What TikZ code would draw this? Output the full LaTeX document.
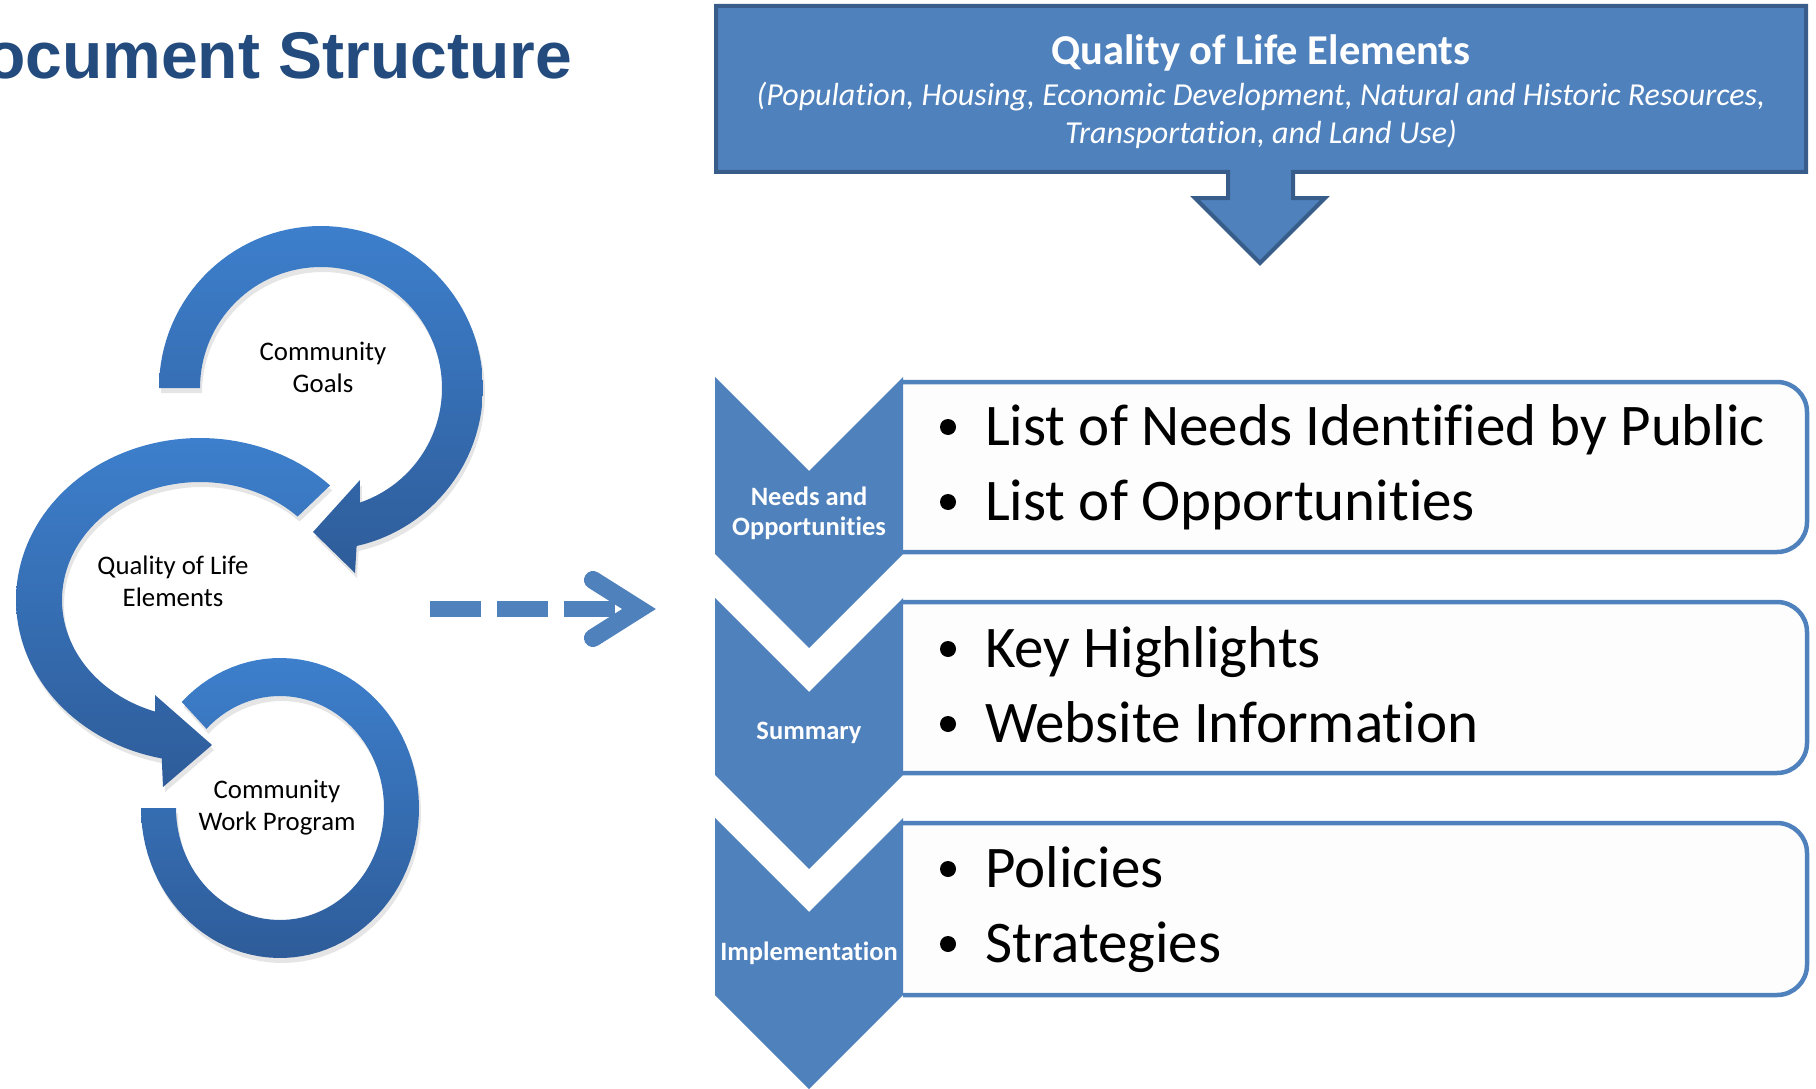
\documentclass[tikz,border=0pt]{standalone}
\usepackage{fontspec}
\setmainfont{Carlito}[Ligatures=NoCommon]
\newfontfamily\titlefont{Liberation Sans}
\definecolor{cblue}{RGB}{79,129,189}
\definecolor{cdark}{RGB}{56,93,138}
\definecolor{boxfill}{RGB}{253,253,253}
\definecolor{titleblue}{RGB}{35,75,125}
\definecolor{arrtop}{RGB}{61,127,204}
\definecolor{arrbot}{RGB}{46,92,153}
\newcommand{\ArrOnePath}{plot[domain=180:437.3,samples=90] ({321+162*cos(\x)},{388+162*sin(\x)}) -- (355,573) -- (313,532) -- (360,480) -- plot[domain=431.3:180,samples=90] ({321+121*cos(\x)},{388+121*sin(\x)}) -- cycle}
\newcommand{\ArrTwoPath}{plot[domain=-45:-258,samples=90] ({200+184*cos(\x)},{600+162*sin(\x)}) -- (163,787) -- (212,745) -- (155,695) -- plot[domain=-251:-45,samples=90] ({200+138*cos(\x)},{600+118*sin(\x)}) -- cycle}
\newcommand{\ArrThreePath}{plot[domain=225:540,samples=90] ({280+139*cos(\x)},{808+150*sin(\x)}) -- plot[domain=540:225,samples=90] ({280+104*cos(\x)},{808+112*sin(\x)}) -- cycle}
\begin{document}
\begin{tikzpicture}[x=1pt,y=-1pt,
  chev/.style={fill=cblue},
  listbox/.style={fill=boxfill, draw=cblue, line width=4.5pt, rounded corners=30pt},
  chevlabel/.style={text=white, font=\bfseries\fontsize{26.5}{30}\selectfont, align=center, inner sep=0pt},
  item/.style={anchor=base west, font=\fontsize{59}{68}\selectfont, inner sep=0pt},
  bul/.style={circle, fill=black, minimum size=16pt, inner sep=0pt},
  circlabel/.style={font=\fontsize{26.8}{32}\selectfont, align=center, inner sep=0pt},
  arr/.style={top color=arrtop, bottom color=arrbot},
  shade/.style={fill=black, opacity=0.10, xshift=2pt, yshift=-5pt},
  dashline/.style={draw=cblue, line width=16pt}
]
\useasboundingbox (0,0) rectangle (1816,1089);

% page title
\node[anchor=base east, text=titleblue, font=\titlefont\bfseries\fontsize{66}{70}\selectfont, inner sep=0pt] (title) at (572,79) {Document Structure};

% top callout box with down arrow
\draw[fill=cblue, draw=cdark, line width=4pt, line join=miter]
  (716,6) -- (1806,6) -- (1806,172) -- (1293,172) -- (1293,198) -- (1325,198)
  -- (1260,263) -- (1195,198) -- (1228,198) -- (1228,172) -- (716,172) -- cycle;
\node[text=white, font=\bfseries\fontsize{42.5}{48}\selectfont, inner sep=0pt] (qtitle) at (1261,53) {Quality of Life Elements};
\node[text=white, font=\itshape\fontsize{32}{38}\selectfont, align=center, inner sep=0pt] (qsub) at (1261,115)
  {(Population, Housing, Economic Development, Natural and Historic Resources,\\Transportation, and Land Use)};

% list boxes
\draw[listbox] (903,382) -- (1807,382) -- (1807,552) -- (903,552);
\draw[listbox] (903,602) -- (1807,602) -- (1807,773) -- (903,773);
\draw[listbox] (903,823) -- (1807,823) -- (1807,995) -- (903,995);

% chevrons
\fill[chev] (715,377) -- (809,471) -- (903,377) -- (903,554) -- (809,648) -- (715,554) -- cycle;
\fill[chev] (715,598) -- (809,692) -- (903,598) -- (903,775) -- (809,869) -- (715,775) -- cycle;
\fill[chev] (715,818) -- (809,912) -- (903,818) -- (903,995) -- (809,1089) -- (715,995) -- cycle;

\node[chevlabel] (c1) at (809,513) {Needs and\\Opportunities};
\node[chevlabel] (c2) at (809,733) {Summary};
\node[chevlabel] (c3) at (809,953) {Implementation};

% list items
\node[bul] (b11) at (948,427) {};
\node[item] (t11) at (985,445) {List of Needs Identified by Public};
\node[bul] (b12) at (948,502) {};
\node[item] (t12) at (985,520) {List of Opportunities};
\node[bul] (b21) at (948,649) {};
\node[item] (t21) at (985,667) {Key Highlights};
\node[bul] (b22) at (948,724) {};
\node[item] (t22) at (985,742) {Website Information};
\node[bul] (b31) at (948,869) {};
\node[item] (t31) at (985,887) {Policies};
\node[bul] (b32) at (948,944) {};
\node[item] (t32) at (985,962) {Strategies};

% circular arrows
\fill[shade] \ArrThreePath;
\fill[shade] \ArrTwoPath;
\fill[shade] \ArrOnePath;
\path[arr] \ArrThreePath;
\path[arr] \ArrTwoPath;
\path[arr] \ArrOnePath;

\node[circlabel] (goals) at (323,367) {Community\\Goals};
\node[circlabel] (qle) at (173,581) {Quality of Life\\Elements};
\node[circlabel] (cwp) at (277,808) {Community\\Work Program};

% dashed arrow
\coordinate (dstart) at (430,609);
\coordinate (dmid) at (615,609);
\coordinate (dtip) at (639,609);
\coordinate (dup) at (593,580);
\coordinate (ddown) at (593,638);
\draw[dashline, dash pattern=on 51pt off 16pt] (dstart) -- (dmid);
\draw[draw=cblue, line width=18pt, line cap=round, line join=miter] (dup) -- (dtip) -- (ddown);
\end{tikzpicture}
\end{document}
